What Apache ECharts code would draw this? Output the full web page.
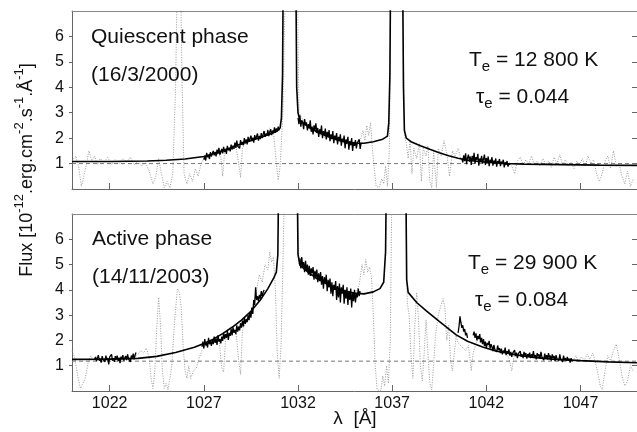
<!DOCTYPE html>
<html>
<head>
<meta charset="utf-8">
<script src="https://cdn.jsdelivr.net/npm/echarts@6/dist/echarts.min.js"></script>
<style>
  html, body { margin: 0; padding: 0; background: #fff; }
  #chart { width: 637px; height: 432px; }
</style>
</head>
<body>
<div id="chart"></div>
<script>
// axis ticks
const xTicks = [1022, 1027, 1032, 1037, 1042, 1047];
const yTicks = [1, 2, 3, 4, 5, 6];

// ---- quiescent phase (top panel) ----
const topModel = [[1020,1.08],[1022,1.08],[1024,1.1],[1025,1.13],[1026,1.18],[1027,1.28],[1028,1.5],[1029,1.78],
  [1030,2.03],[1030.5,2.15],[1030.9,2.28],[1031.05,2.4],[1031.12,2.8],[1031.18,4.5],[1031.22,9],[1031.88,9],
  [1031.93,4.0],[1032.0,3.0],[1032.1,2.7],[1032.5,2.47],[1033,2.25],[1033.5,2.08],[1034,1.95],[1034.5,1.85],
  [1035,1.8],[1035.5,1.8],[1036,1.86],[1036.5,1.96],[1036.75,2.08],[1036.82,2.6],[1036.88,4.5],[1036.92,9],
  [1037.55,9],[1037.6,4.0],[1037.65,2.3],[1037.75,2.0],[1038,1.86],[1038.5,1.7],[1039,1.56],[1039.5,1.43],
  [1040,1.31],[1040.5,1.21],[1041,1.13],[1042,1.05],[1043,1.0],[1044,0.98],[1046,0.96],[1048,0.94],[1050,0.93]];
const topCont = [[1020,1.0],[1050,1.0]];

// observed spectrum pieces, one value every 0.05 A from the start wavelength
const topObsAStart = 1027.0;
const topObsA = [1.15,1.3,1.12,1.42,1.25,1.33,1.18,1.45,1.28,1.22,1.5,
  1.32,1.46,1.28,1.55,1.38,1.62,1.35,1.44,1.58,1.4,
  1.66,1.45,1.58,1.38,1.7,1.52,1.6,1.48,1.75,1.55,
  1.7,1.58,1.82,1.62,1.9,1.68,1.75,1.6,1.92,1.74,
  1.85,1.72,2.0,1.8,1.95,1.75,2.05,1.86,1.92,2.1,
  1.88,2.02,1.82,2.12,1.95,2.0,2.18,1.9,2.08,1.96,
  2.2,2.0,2.15,2.28,2.05,2.18,2.1,2.32,2.08,2.25,
  2.35,2.12,2.3,2.2,2.42,2.22,2.38,2.28,2.45,2.3];
const topObsBStart = 1032.0;
const topObsB = [2.8,2.55,2.9,2.45,2.7,2.6,2.35,2.75,2.5,2.62,2.3,
  2.55,2.38,2.7,2.25,2.45,2.15,2.5,2.32,2.58,2.2,
  2.4,2.05,2.35,2.18,2.5,2.0,2.28,2.12,2.38,1.95,
  2.25,2.05,2.32,1.88,2.15,1.98,2.28,1.8,2.1,1.95,
  2.2,1.75,2.05,1.9,2.15,1.7,1.98,1.85,2.1,1.6,
  1.95,1.78,2.05,1.55,1.88,1.72,2.0,1.5,1.85,1.7,
  1.92,1.6,1.82,1.75,1.95,1.58,1.8,1.78];
const topObsCStart = 1040.7;
const topObsC = [1.2,1.05,1.32,1.1,1.4,0.98,1.22,1.35,1.08,1.28,0.95,
  1.3,1.12,1.42,1.0,1.25,1.15,1.38,0.92,1.2,1.1,
  1.3,1.0,1.18,1.35,0.95,1.22,1.05,1.28,0.9,1.15,
  1.05,1.25,0.92,1.12,1.0,1.2,0.88,1.1,1.02,1.18,
  0.9,1.08,0.98,1.15,0.85,1.05,0.95,1.1,0.88,1.02,
  0.95,1.0];

const topDotted = [[1020.0,1.1],[1020.2,1.3],[1020.35,0.9],[1020.5,0.1],[1020.6,0.05],[1020.75,0.9],[1020.9,1.5],
  [1021.05,1.1],[1021.2,1.3],[1021.35,0.95],[1021.5,1.2],[1021.7,1.05],[1021.9,1.25],[1022.1,0.95],[1022.3,1.15],
  [1022.5,1.0],[1022.7,1.2],[1022.9,1.05],[1023.1,1.25],[1023.3,0.95],[1023.5,1.1],[1023.7,0.9],[1023.9,1.05],
  [1024.1,0.7],[1024.3,0.2],[1024.45,0.5],[1024.6,1.2],[1024.75,0.6],[1024.9,0.05],[1025.05,0.3],[1025.2,0.05],
  [1025.35,0.6],[1025.5,4],[1025.6,9],[1025.75,9],[1025.85,4],[1025.95,0.6],[1026.1,0.2],[1026.25,0.6],[1026.4,0.3],
  [1026.55,0.8],[1026.7,0.5],[1026.85,1.0],[1027.0,1.2],[1027.3,1.3],[1027.6,1.4],[1027.9,1.3],[1028.0,0.5],
  [1028.1,1.4],[1028.4,1.6],[1028.7,1.7],[1028.85,1.0],[1028.95,0.45],[1029.05,1.6],[1029.3,1.9],[1029.6,2.0],
  [1029.9,2.1],[1030.2,2.2],[1030.5,2.4],[1030.7,2.2],[1030.85,1.0],[1030.95,0.35],[1031.05,0.9],[1031.2,3],
  [1031.35,9],[1031.95,9],[1032.05,3.0],[1032.5,2.4],[1033,2.2],[1033.5,2.0],[1034,1.9],[1034.5,1.8],[1035,1.75],
  [1035.3,1.9],[1035.45,2.3],[1035.55,1.9],[1035.65,2.5],[1035.75,2.1],[1035.85,2.6],[1035.95,1.6],[1036.05,0.8],
  [1036.15,0.1],[1036.3,0.05],[1036.45,0.4],[1036.55,0.2],[1036.65,0.9],[1036.75,0.1],[1036.85,1.5],[1036.95,9],
  [1037.55,9],[1037.65,2.1],[1037.75,1.8],[1037.85,1.2],[1037.95,1.9],[1038.05,0.6],[1038.15,1.6],[1038.3,1.2],
  [1038.45,1.8],[1038.55,0.3],[1038.65,1.6],[1038.8,1.3],[1038.9,1.7],[1039.0,0.3],[1039.1,0.05],[1039.2,1.5],
  [1039.35,0.05],[1039.45,1.6],[1039.6,1.3],[1039.75,1.9],[1039.9,1.4],[1040.05,0.5],[1040.2,1.5],[1040.35,1.3],
  [1040.5,1.6],[1040.65,1.2],[1041.5,1.1],[1042.5,1.05],[1043.2,1.0],[1043.35,0.9],[1043.5,0.6],[1043.65,1.1],
  [1043.8,1.25],[1043.95,0.95],[1044.1,1.15],[1044.25,1.0],[1044.4,1.3],[1044.55,0.95],[1044.7,1.1],[1044.85,0.9],
  [1045.0,1.2],[1045.15,0.95],[1045.3,1.1],[1045.45,0.85],[1045.6,1.25],[1045.75,1.0],[1045.9,1.35],[1046.05,0.95],
  [1046.2,1.15],[1046.35,0.9],[1046.5,1.05],[1046.65,0.8],[1046.8,1.1],[1046.95,0.95],[1047.1,1.2],[1047.25,0.9],
  [1047.4,1.3],[1047.55,1.0],[1047.7,1.15],[1047.85,0.6],[1048.0,0.3],[1048.15,0.6],[1048.3,1.1],[1048.45,1.3],
  [1048.6,0.8],[1048.75,1.5],[1048.9,0.9],[1049.05,1.0],[1049.2,0.5],[1049.35,0.2],[1049.5,0.7],[1049.65,0.1],
  [1049.8,0.4]];

// ---- active phase (bottom panel) ----
const botModel = [[1020,1.25],[1022,1.26],[1023.5,1.29],[1024.5,1.37],[1025.5,1.52],[1026.5,1.73],[1027,1.88],
  [1027.5,2.05],[1028,2.27],[1028.5,2.52],[1029,2.8],[1029.5,3.15],[1030,3.6],[1030.4,4.05],[1030.7,4.45],
  [1030.85,4.7],[1030.93,5.4],[1030.98,9],[1031.95,9],[1032.0,5.4],[1032.1,4.98],[1032.5,4.72],[1033,4.45],
  [1033.5,4.25],[1034,4.08],[1034.5,3.95],[1035,3.87],[1035.5,3.84],[1036,3.92],[1036.35,4.05],[1036.55,4.3],
  [1036.65,5.5],[1036.7,9],[1037.72,9],[1037.77,4.4],[1037.85,3.9],[1038.3,3.5],[1038.8,3.18],[1039.5,2.75],
  [1040.4,2.22],[1041,1.97],[1041.8,1.74],[1042.5,1.58],[1043.6,1.43],[1044.5,1.33],[1045.5,1.26],[1047,1.2],
  [1048.5,1.15],[1050,1.12]];
const botCont = [[1020,1.18],[1050,1.18]];

const botObsAStart = 1021.2;
const botObsA = [1.25,1.35,1.18,1.3,1.42,1.2,1.28,1.12,1.38,1.25,
  1.32,1.15,1.4,1.22,1.3,1.05,1.35,1.28,1.45,1.2,
  1.3,1.15,1.38,1.25,1.4,1.18,1.32,1.1,1.36,1.26,
  1.42,1.2,1.3,1.38,1.22,1.45,1.28,1.35,1.15,1.4,
  1.3,1.48,1.25,1.42,1.52];
const botObsBStart = 1026.9;
const botObsB = [1.75,1.95,1.68,2.05,1.8,1.9,1.72,2.1,1.85,1.98,1.78,
  2.02,1.85,2.15,1.9,2.08,1.82,2.2,1.95,2.05,1.88,
  2.15,1.98,2.3,2.05,2.25,2.1,2.38,2.02,2.3,2.18,
  2.45,2.2,2.52,2.3,2.42,2.25,2.6,2.35,2.55,2.4,
  2.68,2.5,2.78,2.55,2.9,2.65,2.85,2.72,3.0,2.8,
  3.1,2.9,3.3,3.05,3.6,3.4,4.1,3.6,3.75,3.55,
  3.8,3.65,3.95,3.75,3.9,4.0];
const botObsCStart = 1032.1;
const botObsC = [5.25,4.85,5.3,4.9,5.1,4.7,5.15,4.75,5.0,4.6,
  4.95,4.55,4.85,4.65,4.9,4.4,4.75,4.5,4.8,4.3,
  4.65,4.35,4.7,4.2,4.55,4.05,4.5,4.25,4.6,3.95,
  4.4,4.1,4.45,3.85,4.3,3.75,4.2,4.0,4.35,3.6,
  4.15,3.7,4.25,3.5,4.1,3.85,4.2,3.45,4.0,3.65,
  4.1,3.4,3.95,3.6,4.05,3.3,3.9,3.55,4.0,3.5,
  3.85,3.7,4.05,3.75,3.95];
const botObsDStart = 1040.5;
const botObsD = [2.3,2.55,2.95,2.7,2.5,2.6,2.35,2.45,2.2,2.3,2.1];
const botObsEStart = 1041.3;
const botObsE = [2.2,2.35,2.1,2.28,2.0,2.18,2.05,2.25,1.92,2.1,
  1.85,2.05,1.78,1.95,1.7,1.9,1.82,1.98,1.68,1.85,
  1.75,1.58,1.82,1.65,1.72,1.55,1.8,1.62,1.7,1.5,
  1.68,1.45,1.6,1.52,1.72,1.42,1.58,1.48,1.65,1.4,
  1.55,1.35,1.5,1.45,1.62,1.38,1.52,1.3,1.48,1.42,
  1.58,1.35,1.45,1.3,1.55,1.4,1.5,1.28,1.46,1.38,
  1.52,1.3,1.45,1.35,1.58,1.32,1.42,1.25,1.5,1.36,
  1.45,1.28,1.55,1.35,1.4,1.22,1.48,1.3,1.42,1.25,
  1.5,1.32,1.4,1.2,1.45,1.3,1.38,1.18,1.42,1.28,
  1.35,1.2,1.45,1.25,1.32,1.15,1.4,1.22,1.3,1.18,
  1.35,1.2,1.28,1.12,1.3,1.18,1.22];

const botDotted = [[1020.0,1.6],[1020.15,1.3],[1020.3,0.6],[1020.45,0.1],[1020.55,0.05],[1020.7,0.5],[1020.85,1.1],
  [1021.0,1.4],[1021.15,1.2],[1021.3,1.35],[1021.5,1.25],[1022.0,1.3],[1022.5,1.25],[1023.0,1.3],[1023.3,1.35],
  [1023.5,1.45],[1023.65,1.6],[1023.8,1.5],[1023.95,1.7],[1024.1,1.3],[1024.2,0.5],[1024.3,0.1],[1024.4,0.8],
  [1024.5,2.5],[1024.6,3.7],[1024.7,2.6],[1024.8,0.8],[1024.9,0.1],[1025.0,0.3],[1025.1,0.05],[1025.2,0.1],
  [1025.3,1.0],[1025.45,2.8],[1025.6,4.05],[1025.7,3.9],[1025.8,3.3],[1025.9,1.8],[1026.0,0.8],[1026.1,0.5],
  [1026.2,1.0],[1026.3,0.5],[1026.45,0.8],[1026.6,0.9],[1026.75,1.3],[1026.9,1.6],[1027.2,1.9],[1027.5,2.0],
  [1027.8,2.1],[1027.95,0.9],[1028.05,0.75],[1028.15,2.0],[1028.4,2.3],[1028.7,2.4],[1028.85,1.2],[1028.95,0.65],
  [1029.05,2.4],[1029.3,2.8],[1029.6,3.3],[1029.8,4.0],[1029.95,4.6],[1030.1,4.3],[1030.25,5.0],[1030.4,4.8],
  [1030.5,5.5],[1030.6,5.1],[1030.7,5.3],[1030.8,4.0],[1030.9,1.5],[1031.0,0.5],[1031.1,1.8],[1031.2,5],
  [1031.3,9],[1031.95,9],[1032.05,5.0],[1032.5,4.7],[1033,4.4],[1033.5,4.2],[1034,4.1],[1034.5,3.9],[1035,3.8],
  [1035.25,4.2],[1035.4,5.0],[1035.5,4.6],[1035.6,5.2],[1035.7,4.7],[1035.8,4.9],[1035.9,4.5],[1036.0,3.0],
  [1036.1,1.0],[1036.2,0.05],[1036.3,0.1],[1036.4,0.0],[1036.5,0.6],[1036.6,0.2],[1036.7,1.0],[1036.8,0.3],
  [1036.9,2.0],[1037.0,9],[1037.7,9],[1037.8,3.5],[1037.9,3.0],[1038.0,1.4],[1038.1,0.5],[1038.2,2.5],[1038.3,3.9],
  [1038.4,2.8],[1038.5,1.0],[1038.6,0.4],[1038.7,1.5],[1038.8,2.8],[1038.9,1.5],[1039.0,0.3],[1039.1,0.05],
  [1039.2,1.0],[1039.3,2.2],[1039.45,3.0],[1039.6,3.4],[1039.7,3.65],[1039.8,3.3],[1039.9,2.0],[1040.0,2.6],
  [1040.1,1.2],[1040.2,0.8],[1040.3,1.5],[1040.4,2.2],[1040.5,1.9],[1040.9,1.6],[1041.05,1.8],[1041.2,0.8],
  [1041.3,1.5],[1041.5,2.0],[1042,1.8],[1042.5,1.6],[1043.0,1.55],[1043.2,1.3],[1043.35,0.8],[1043.5,1.5],
  [1044,1.4],[1045,1.3],[1046,1.25],[1046.6,1.2],[1046.75,1.4],[1046.9,1.15],[1047.05,1.35],[1047.2,1.2],
  [1047.35,1.45],[1047.5,1.25],[1047.65,1.5],[1047.8,1.1],[1047.95,0.6],[1048.05,0.2],[1048.15,0.05],[1048.3,0.8],
  [1048.45,1.4],[1048.6,1.2],[1048.75,1.6],[1048.9,1.85],[1049.05,1.3],[1049.2,0.6],[1049.35,0.2],[1049.5,0.4],
  [1049.65,1.0],[1049.8,0.8]];

const font = 'Liberation Sans, Arial, Helvetica, sans-serif';
const axisColor = '#666';
const textColor = '#111';
const obsStep = 0.05;

function seg(start, vals) {
  return vals.map((v, i) => [+(start + i * obsStep).toFixed(3), v]);
}

function xAxes(g, labels) {
  return [
    {
      gridIndex: g, type: 'value', min: 1020, max: 1050, position: 'bottom',
      axisLine: { show: true, onZero: false, lineStyle: { color: axisColor } },
      axisTick: { show: true, inside: true, length: 6, customValues: xTicks, lineStyle: { color: axisColor } },
      axisLabel: {
        show: labels, customValues: xTicks, margin: 5, color: textColor, fontSize: 16, fontFamily: font,
        formatter: v => String(v)
      },
      splitLine: { show: false }
    },
    {
      gridIndex: g, type: 'value', min: 1020, max: 1050, position: 'top',
      axisLine: { show: true, onZero: false, lineStyle: { color: '#888' } },
      axisTick: { show: false }, axisLabel: { show: false }, splitLine: { show: false }
    }
  ];
}

function yAxes(g) {
  return [
    {
      gridIndex: g, type: 'value', min: 0, max: 7, position: 'left',
      axisLine: { show: true, onZero: false, lineStyle: { color: axisColor } },
      axisTick: { show: true, length: 3, customValues: yTicks, lineStyle: { color: axisColor } },
      axisLabel: { customValues: yTicks, margin: 8, color: textColor, fontSize: 16, fontFamily: font },
      splitLine: { show: false }
    },
    {
      gridIndex: g, type: 'value', min: 0, max: 7, position: 'right',
      axisLine: { show: false },
      axisTick: { show: true, inside: true, length: 5, customValues: yTicks, lineStyle: { color: axisColor } },
      axisLabel: { show: false }, splitLine: { show: false }
    }
  ];
}

function line(data, xi, yi, style, z) {
  return {
    type: 'line', data, xAxisIndex: xi, yAxisIndex: yi, showSymbol: false, symbol: 'none',
    lineStyle: style, z, silent: true, animation: false
  };
}

const dotStyle = { color: '#999', width: 1, type: [1, 1.5] };
const dashStyle = { color: '#777', width: 1, type: [4, 3] };
const modelStyle = { color: '#000', width: 1.6 };
const obsStyle = { color: '#000', width: 1.3 };

const series = [
  line(topDotted, 0, 0, dotStyle, 1),
  line(topCont, 0, 0, dashStyle, 2),
  line(topModel, 0, 0, modelStyle, 3),
  line(seg(topObsAStart, topObsA), 0, 0, obsStyle, 4),
  line(seg(topObsBStart, topObsB), 0, 0, obsStyle, 4),
  line(seg(topObsCStart, topObsC), 0, 0, obsStyle, 4),
  line(botDotted, 2, 2, dotStyle, 1),
  line(botCont, 2, 2, dashStyle, 2),
  line(botModel, 2, 2, modelStyle, 3),
  line(seg(botObsAStart, botObsA), 2, 2, obsStyle, 4),
  line(seg(botObsBStart, botObsB), 2, 2, obsStyle, 4),
  line(seg(botObsCStart, botObsC), 2, 2, obsStyle, 4),
  line(seg(botObsDStart, botObsD), 2, 2, obsStyle, 4),
  line(seg(botObsEStart, botObsE), 2, 2, obsStyle, 4)
];

function label(text, x, y) {
  return {
    type: 'text', x, y, z: 10,
    style: { text, fill: textColor, font: '21px ' + font, align: 'left', verticalAlign: 'middle' }
  };
}

const subRich = {
  m: { fontSize: 21, fontFamily: font, fill: textColor, lineHeight: 28, verticalAlign: 'middle' },
  s: { fontSize: 15, fontFamily: font, fill: textColor, verticalAlign: 'bottom' }
};
function paramLabel(sym, rest, x, y) {
  return {
    type: 'text', x, y, z: 10,
    style: { text: '{m|' + sym + '}{s|e}{m|' + rest + '}', rich: subRich, align: 'left', verticalAlign: 'top' }
  };
}

const chart = echarts.init(document.getElementById('chart'), null, { renderer: 'canvas' });
chart.setOption({
  animation: false,
  grid: [
    { left: 72, top: 11, width: 567, height: 178 },
    { left: 72, top: 214, width: 567, height: 177 }
  ],
  xAxis: [...xAxes(0, false), ...xAxes(1, true)],
  yAxis: [...yAxes(0), ...yAxes(1)],
  series,
  graphic: [
    label('Quiescent phase', 91, 37),
    label('(16/3/2000)', 91, 75),
    label('Active phase', 92, 239.5),
    label('(14/11/2003)', 92, 277),
    paramLabel('T', ' = 12 800 K', 469, 46),
    paramLabel('\u03c4', ' = 0.044', 476, 83),
    paramLabel('T', ' = 29 900 K', 468, 249),
    paramLabel('\u03c4', ' = 0.084', 475, 286),
    {
      type: 'text', x: 27, y: 170, rotation: Math.PI / 2, z: 10,
      style: {
        text: '{m|Flux [10}{p|-12}{m|.erg.cm}{p|-2}{m|.s}{p|-1}{m|.\u00c5}{p|-1}{m|]}',
        align: 'center', verticalAlign: 'middle',
        rich: {
          m: { fontSize: 18, fontFamily: font, fill: textColor, lineHeight: 28, verticalAlign: 'middle' },
          p: { fontSize: 13, fontFamily: font, fill: textColor, verticalAlign: 'top' }
        }
      }
    },
    {
      type: 'text', x: 355, y: 419, z: 10,
      style: { text: '\u03bb  [\u00c5]', fill: textColor, font: '19px ' + font, align: 'center', verticalAlign: 'middle' }
    }
  ]
});
</script>
</body>
</html>
